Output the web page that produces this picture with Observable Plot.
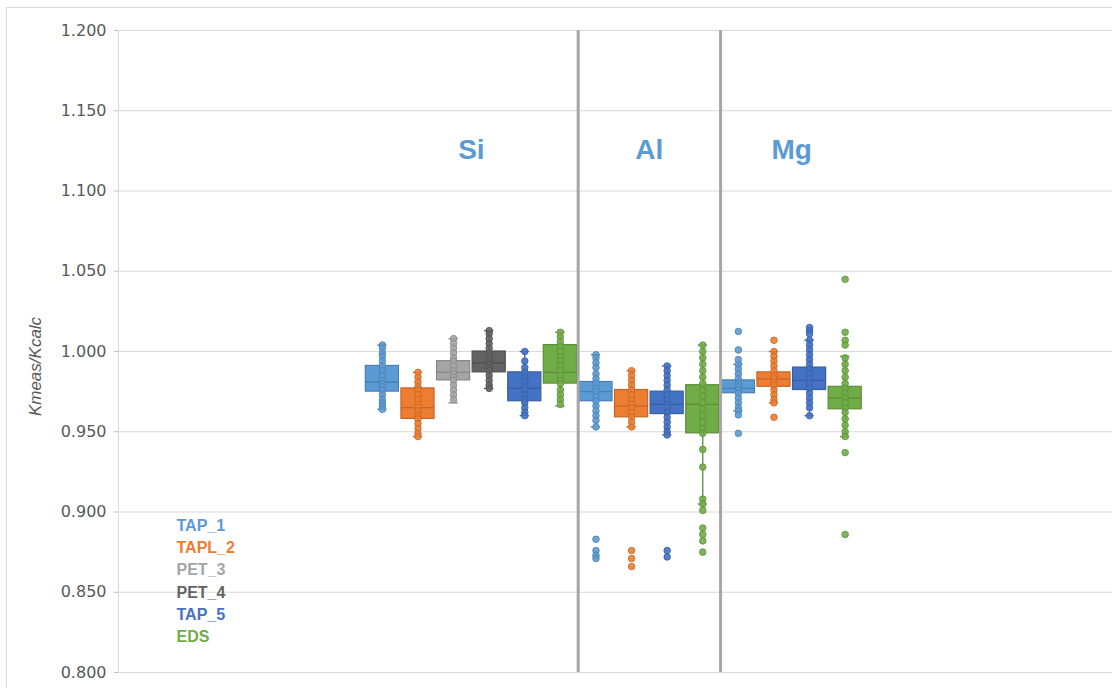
<!DOCTYPE html>
<html><head><meta charset="utf-8">
<script src="https://cdn.jsdelivr.net/npm/d3@7"></script>
<script src="https://cdn.jsdelivr.net/npm/@observablehq/plot@0.6"></script>
<style>
body{margin:0;background:#fff;}
#wrap{position:relative;width:1112px;height:688px;overflow:hidden;background:#fff;}
#wrap svg{position:absolute;left:0;top:0;}
#border{position:absolute;left:6px;top:7px;width:1200px;height:800px;border:1px solid #d9d9d9;pointer-events:none;}
</style></head><body><div id="wrap"><div id="border"></div></div>
<script>
const groups = ["Si", "Al", "Mg"];
const seriesNames = ["TAP_1", "TAPL_2", "PET_3", "PET_4", "TAP_5", "EDS"];
const seriesColors = ["#5B9BD5", "#ED7D31", "#A5A5A5", "#636363", "#4472C4", "#70AD47"];
const yTicks = [0.800, 0.850, 0.900, 0.950, 1.000, 1.050, 1.100, 1.150, 1.200];
const yLabel = "Kmeas/Kcalc";

const boxGroup  = ["Si","Si","Si","Si","Si","Si","Al","Al","Al","Al","Mg","Mg","Mg","Mg"];
const boxSeries = ["TAP_1","TAPL_2","PET_3","PET_4","TAP_5","EDS","TAP_1","TAPL_2","TAP_5","EDS","TAP_1","TAPL_2","TAP_5","EDS"];
const lower  = [0.964, 0.947, 0.968, 0.977, 0.960, 0.966, 0.953, 0.953, 0.948, 0.905, 0.963, 0.968, 0.960, 0.947];
const q1     = [0.975, 0.958, 0.982, 0.987, 0.969, 0.980, 0.969, 0.959, 0.961, 0.949, 0.974, 0.978, 0.976, 0.964];
const median = [0.981, 0.965, 0.987, 0.993, 0.977, 0.987, 0.975, 0.966, 0.967, 0.967, 0.977, 0.983, 0.982, 0.971];
const q3     = [0.991, 0.977, 0.994, 1.000, 0.987, 1.004, 0.981, 0.976, 0.975, 0.979, 0.982, 0.987, 0.990, 0.978];
const upper  = [1.004, 0.987, 1.008, 1.013, 1.000, 1.012, 0.998, 0.988, 0.991, 1.004, 0.992, 1.000, 1.007, 0.997];
const points = [
  [1.004, 1.002, 0.999, 0.997, 0.994, 0.991, 0.988, 0.985, 0.982, 0.980, 0.978, 0.976, 0.973, 0.970, 0.968, 0.966, 0.964],
  [0.987, 0.984, 0.981, 0.978, 0.976, 0.973, 0.970, 0.967, 0.965, 0.963, 0.960, 0.958, 0.955, 0.952, 0.949, 0.947],
  [1.008, 1.005, 1.002, 0.999, 0.996, 0.994, 0.991, 0.988, 0.986, 0.984, 0.982, 0.979, 0.976, 0.973, 0.970],
  [1.013, 1.011, 1.008, 1.005, 1.002, 0.999, 0.996, 0.994, 0.992, 0.990, 0.988, 0.985, 0.982, 0.979, 0.977],
  [1.000, 0.994, 0.990, 0.987, 0.984, 0.981, 0.978, 0.976, 0.973, 0.970, 0.968, 0.965, 0.962, 0.960],
  [1.012, 1.009, 1.006, 1.003, 1.000, 0.997, 0.994, 0.991, 0.988, 0.985, 0.982, 0.980, 0.976, 0.973, 0.970, 0.967],
  [0.998, 0.996, 0.993, 0.990, 0.986, 0.983, 0.980, 0.977, 0.975, 0.972, 0.969, 0.966, 0.963, 0.960, 0.957, 0.953, 0.883, 0.876, 0.873, 0.871],
  [0.988, 0.985, 0.982, 0.979, 0.976, 0.973, 0.970, 0.967, 0.965, 0.962, 0.959, 0.956, 0.953, 0.876, 0.871, 0.866],
  [0.991, 0.988, 0.985, 0.982, 0.979, 0.976, 0.973, 0.970, 0.967, 0.965, 0.962, 0.959, 0.956, 0.953, 0.950, 0.948, 0.876, 0.872],
  [1.004, 1.000, 0.996, 0.992, 0.988, 0.984, 0.980, 0.976, 0.972, 0.968, 0.964, 0.960, 0.956, 0.952, 0.949, 0.939, 0.928, 0.908, 0.905, 0.901, 0.890, 0.886, 0.882, 0.875],
  [0.992, 0.989, 0.986, 0.983, 0.980, 0.978, 0.976, 0.974, 0.971, 0.968, 0.965, 0.963, 1.0125, 1.001, 0.995, 0.9605, 0.949],
  [1.000, 0.997, 0.994, 0.991, 0.988, 0.985, 0.983, 0.981, 0.979, 0.976, 0.973, 0.970, 0.968, 1.007, 0.959],
  [1.007, 1.004, 1.001, 0.998, 0.995, 0.992, 0.989, 0.986, 0.983, 0.980, 0.977, 0.974, 0.971, 0.968, 0.965, 0.960, 1.015, 1.013, 1.011],
  [0.996, 0.992, 0.988, 0.984, 0.980, 0.977, 0.974, 0.971, 0.968, 0.965, 0.962, 0.958, 0.954, 0.950, 0.947, 1.045, 1.012, 1.007, 1.004, 0.937, 0.886]
];

const colorOf = s => seriesColors[seriesNames.indexOf(s)];
const darkOf = s => d3.color(colorOf(s)).darker(0.55).formatHex();

const boxes = boxGroup.map((g, i) => ({
  slot: i, group: g, series: boxSeries[i],
  lower: lower[i], q1: q1[i], median: median[i], q3: q3[i], upper: upper[i]
}));
const dots = boxes.flatMap((b, i) => points[i].map(v => ({slot: b.slot, series: b.series, value: v})));

// group separators and group centres, derived from box order
const separators = [];
for (let i = 1; i < boxes.length; i++) if (boxes[i].group !== boxes[i - 1].group) separators.push(i - 0.5);
const groupLabels = groups.map(g => {
  const s = boxes.filter(b => b.group === g).map(b => b.slot);
  return {group: g, x: d3.mean(s)};
});

const halfW = 0.465, capW = 0.13;
const tickFont = "'DejaVu Sans', sans-serif";
const boldFont = "'Liberation Sans', Arial, sans-serif";

const chart = Plot.plot({
  width: 1112, height: 688,
  marginLeft: 118, marginRight: 0, marginTop: 30, marginBottom: 16,
  style: {background: "transparent", overflow: "visible"},
  x: {type: "linear", domain: [-7.413, 20.51], axis: null},
  y: {domain: [0.8, 1.2]},
  marks: [
    Plot.gridY(yTicks, {stroke: "#d9d9d9", strokeOpacity: 1, strokeWidth: 1}),
    Plot.frame({anchor: "left", stroke: "#d9d9d9"}),
    Plot.axisY(yTicks, {tickFormat: d3.format(".3f"), tickSize: 4, tickPadding: 8, stroke: "#bfbfbf", fill: "#595959", fontSize: 16, fontFamily: tickFont, label: null}),
    Plot.text([yLabel], {frameAnchor: "left", dx: -83, dy: 15, rotate: -90, textAnchor: "middle", fontSize: 17, fontStyle: "italic", fontFamily: "'Liberation Sans', sans-serif", fill: "#595959"}),
    // whiskers
    Plot.ruleX(boxes, {x: "slot", y1: "lower", y2: "q1", stroke: d => darkOf(d.series), strokeWidth: 1.3}),
    Plot.ruleX(boxes, {x: "slot", y1: "q3", y2: "upper", stroke: d => darkOf(d.series), strokeWidth: 1.3}),
    Plot.ruleY(boxes, {y: "lower", x1: d => d.slot - capW, x2: d => d.slot + capW, stroke: d => darkOf(d.series), strokeWidth: 1.3}),
    Plot.ruleY(boxes, {y: "upper", x1: d => d.slot - capW, x2: d => d.slot + capW, stroke: d => darkOf(d.series), strokeWidth: 1.3}),
    // boxes
    Plot.rect(boxes, {x1: d => d.slot - halfW, x2: d => d.slot + halfW, y1: "q1", y2: "q3", fill: d => colorOf(d.series), stroke: d => darkOf(d.series), strokeWidth: 1.2}),
    Plot.ruleY(boxes, {y: "median", x1: d => d.slot - halfW, x2: d => d.slot + halfW, stroke: d => darkOf(d.series), strokeWidth: 1.3}),
    // points
    Plot.dot(dots, {x: "slot", y: "value", r: 3.3, fill: d => colorOf(d.series), stroke: d => darkOf(d.series), strokeWidth: 0.8, fillOpacity: 0.9}),
    // separators
    Plot.ruleX(separators, {stroke: "#a6a6a6", strokeWidth: 3}),
    // group labels
    Plot.text(groupLabels, {x: "x", y: () => 1.1255, text: "group", fontSize: 28, fontWeight: "bold", fontFamily: boldFont, fill: "#5B9BD5"}),
    // legend
    Plot.text(seriesNames, {frameAnchor: "left", dx: 58, y: (d, i) => 0.8915 - i * 0.0139, text: d => d, textAnchor: "start", fontSize: 16, fontWeight: "bold", fontFamily: boldFont, fill: d => colorOf(d)})
  ]
});
document.getElementById("wrap").appendChild(chart);
</script>
</body></html>
